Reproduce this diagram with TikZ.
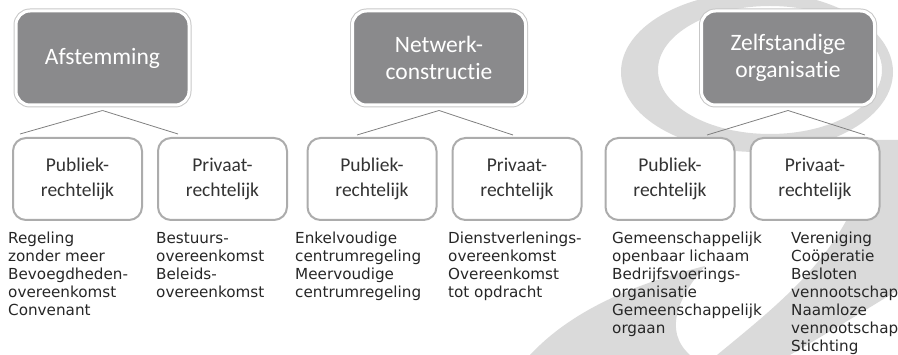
\documentclass[tikz,border=0pt]{standalone}
\usepackage{fontspec}
\setmainfont{Carlito}[Ligatures=NoCommon]
\newfontfamily\listfamily{DejaVu Sans}
\definecolor{boxgray}{RGB}{138,138,140}
\definecolor{edgegray}{RGB}{172,172,172}
\definecolor{linegray}{RGB}{128,128,128}
\definecolor{swoosh}{RGB}{218,218,218}
\tikzset{
  topbox/.style={rectangle, rounded corners=14pt, fill=boxgray, draw=white, line width=3pt,
    preaction={draw=black!22, line width=5pt},
    minimum width=173pt, minimum height=94pt, text=white, align=center, inner sep=0pt,
    font=\fontsize{23.5}{27.5}\selectfont},
  subbox/.style={rectangle, rounded corners=13pt, fill=white, draw=edgegray, line width=2pt,
    minimum width=129pt, minimum height=82pt, align=center, inner sep=0pt, text=black!80,
    font=\fontsize{19.5}{25}\selectfont},
  listtext/.style={anchor=north west, align=left, inner sep=0pt, text=black!85,
    font=\listfamily\fontsize{15.2}{18}\selectfont},
  conn/.style={draw=linegray, line width=0.8pt}
}
\begin{document}
\begin{tikzpicture}[x=1pt,y=-1pt]
\useasboundingbox (0,0) rectangle (898,355);
% background swoosh
\begin{scope}
\clip (0,0) rectangle (898,355);
\fill[swoosh,even odd rule] (757,72) ellipse [x radius=136, y radius=80]
                            (770,70) ellipse [x radius=112, y radius=64];
\fill[swoosh] (717,355) .. controls (790,295) and (860,240) .. (872,140)
   -- (898,140) -- (898,290) .. controls (850,320) and (815,340) .. (790,355) -- cycle;
\fill[swoosh] (530,355) .. controls (570,312) and (630,285) .. (705,266)
   .. controls (680,295) and (662,330) .. (690,355) -- cycle;
\end{scope}
% top boxes
\node[topbox] (A) at (102.5,58) {Afstemming};
\node[topbox] (N) at (439,58) {Netwerk-\\constructie};
\node[topbox] (Z) at (788,58) {Zelfstandige\\organisatie};
% sub boxes
\node[subbox] (A1) at (77.5,179) {Publiek-\\rechtelijk};
\node[subbox] (A2) at (222.5,179) {Privaat-\\rechtelijk};
\node[subbox] (N1) at (372,179) {Publiek-\\rechtelijk};
\node[subbox] (N2) at (517,179) {Privaat-\\rechtelijk};
\node[subbox] (Z1) at (670,179) {Publiek-\\rechtelijk};
\node[subbox] (Z2) at (815,179) {Privaat-\\rechtelijk};
% connector ends
\coordinate (A1e) at (20,134);
\coordinate (A2e) at (178,134);
\coordinate (N1e) at (357,135);
\coordinate (N2e) at (513,135);
\coordinate (Z1e) at (707,135);
\coordinate (Z2e) at (865,135);
\draw[conn] ([yshift=-4pt]A.south) -- (A1e);
\draw[conn] ([yshift=-4pt]A.south) -- (A2e);
\draw[conn] ([yshift=-4pt]N.south) -- (N1e);
\draw[conn] ([yshift=-4pt]N.south) -- (N2e);
\draw[conn] ([yshift=-4pt]Z.south) -- (Z1e);
\draw[conn] ([yshift=-4pt]Z.south) -- (Z2e);
% lists
\node[listtext] (L1) at (8,232) {Regeling\\zonder meer\\Bevoegdheden-\\overeenkomst\\Convenant};
\node[listtext] (L2) at (156,232) {Bestuurs-\\overeenkomst\\Beleids-\\overeenkomst};
\node[listtext] (L3) at (295,232) {Enkelvoudige\\centrumregeling\\Meervoudige\\centrumregeling};
\node[listtext] (L4) at (448,232) {Dienstverlenings-\\overeenkomst\\Overeenkomst\\tot opdracht};
\node[listtext] (L5) at (612,232) {Gemeenschappelijk\\openbaar lichaam\\Bedrijfsvoerings-\\organisatie\\Gemeenschappelijk\\orgaan};
\node[listtext] (L6) at (791,232) {Vereniging\\Coöperatie\\Besloten\\vennootschap\\Naamloze\\vennootschap\\Stichting};
\end{tikzpicture}
\end{document}
